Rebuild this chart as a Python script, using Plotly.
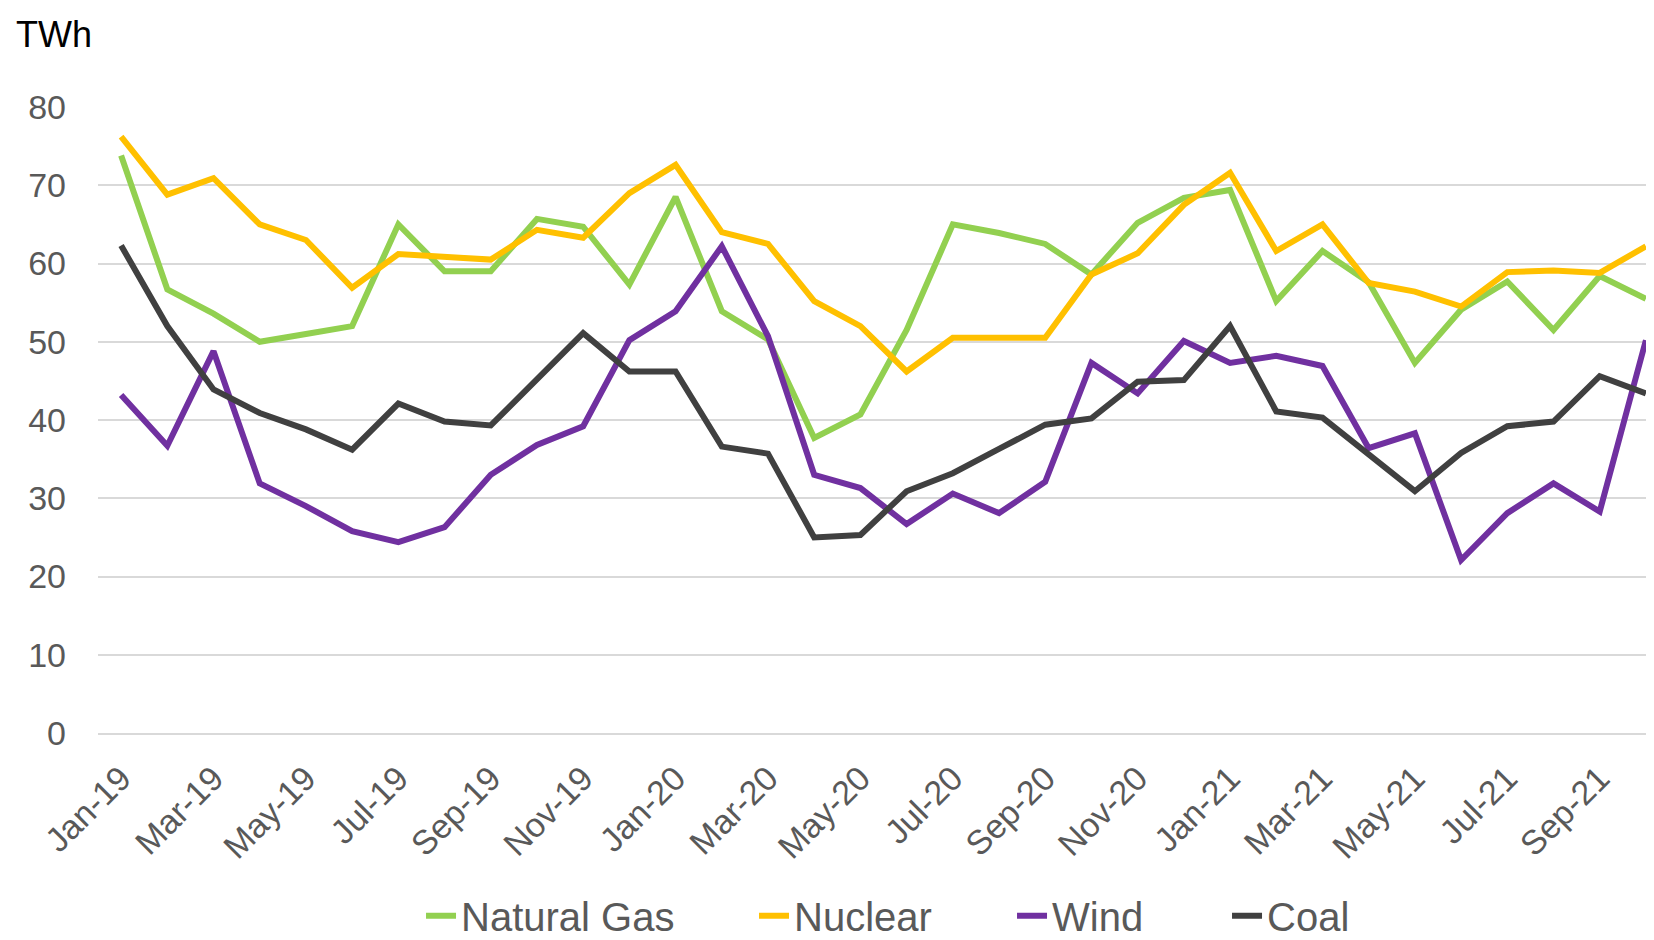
import plotly.graph_objects as go

months = ["Jan-19", "Feb-19", "Mar-19", "Apr-19", "May-19", "Jun-19", "Jul-19", "Aug-19",
          "Sep-19", "Oct-19", "Nov-19", "Dec-19", "Jan-20", "Feb-20", "Mar-20", "Apr-20",
          "May-20", "Jun-20", "Jul-20", "Aug-20", "Sep-20", "Oct-20", "Nov-20", "Dec-20",
          "Jan-21", "Feb-21", "Mar-21", "Apr-21", "May-21", "Jun-21", "Jul-21", "Aug-21",
          "Sep-21", "Oct-21"]

tick_labels = ["Jan-19", "Mar-19", "May-19", "Jul-19", "Sep-19", "Nov-19",
               "Jan-20", "Mar-20", "May-20", "Jul-20", "Sep-20", "Nov-20",
               "Jan-21", "Mar-21", "May-21", "Jul-21", "Sep-21"]

natural_gas = [73.8, 56.7, 53.6, 50.0, 51.0, 52.0, 65.0, 59.0, 59.0, 65.7, 64.7, 57.3,
               68.5, 53.9, 50.3, 37.7, 40.7, 51.5, 65.0, 63.9, 62.5, 58.6, 65.2, 68.4,
               69.4, 55.2, 61.6, 57.6, 47.3, 54.1, 57.7, 51.5, 58.4, 55.5]

nuclear = [76.2, 68.8, 70.9, 65.0, 63.0, 56.9, 61.2, 60.9, 60.5, 64.3, 63.3, 69.0,
           72.6, 64.0, 62.5, 55.2, 52.0, 46.2, 50.5, 50.5, 50.5, 58.6, 61.3, 67.5,
           71.6, 61.6, 65.0, 57.5, 56.4, 54.5, 58.9, 59.1, 58.8, 62.2]

wind = [43.2, 36.7, 48.8, 31.9, 29.0, 25.8, 24.4, 26.3, 33.0, 36.8, 39.2, 50.2,
        53.9, 62.2, 50.7, 33.0, 31.3, 26.7, 30.6, 28.1, 32.1, 47.3, 43.4, 50.1,
        47.3, 48.2, 46.9, 36.4, 38.3, 22.1, 28.1, 31.9, 28.3, 50.2]

coal = [62.3, 52.0, 43.9, 40.9, 38.8, 36.2, 42.1, 39.8, 39.3, 45.2, 51.1, 46.2,
        46.2, 36.6, 35.7, 25.0, 25.3, 30.9, 33.2, 36.3, 39.4, 40.2, 44.9, 45.1,
        52.0, 41.1, 40.3, 35.6, 30.9, 35.8, 39.2, 39.8, 45.6, 43.4]

y_ticks = [0, 10, 20, 30, 40, 50, 60, 70, 80]

series = [
    ("Natural Gas", natural_gas, "#92D050", 288),
    ("Nuclear", nuclear, "#FFC000", 213),
    ("Wind", wind, "#7030A0", 170),
    ("Coal", coal, "#404040", 82),
]

FONT = "Liberation Sans, Arial, sans-serif"
GRID = "#d9d9d9"
TEXT = "#595959"

fig = go.Figure()
for name, vals, color, lw in series:
    fig.add_trace(go.Scatter(x=months, y=vals, mode="lines", name=name,
                             legendwidth=lw,
                             line=dict(color=color, width=6)))

x_range = [-0.5, 33.175]

fig.update_layout(
    width=1646, height=932,
    margin=dict(l=90, r=0, t=99, b=207, autoexpand=False),
    paper_bgcolor="white", plot_bgcolor="white",
    font=dict(family=FONT, color=TEXT),
    xaxis=dict(
        type="category", categoryorder="array", categoryarray=months,
        range=x_range, tickmode="array", tickvals=tick_labels, ticktext=tick_labels,
        ticks="", tickangle=-45, tickfont=dict(size=34, color=TEXT, family=FONT),
        ticklabelstandoff=10,
        showgrid=False, showline=True, linecolor=GRID, linewidth=1.5, zeroline=False,
    ),
    xaxis2=dict(
        overlaying="x", anchor="y", side="bottom", type="linear", range=x_range,
        tickmode="array", tickvals=[i - 0.5 for i in range(0, len(months) + 1, 2)],
        ticks="outside", ticklen=12, tickwidth=1.5, tickcolor=GRID,
        showticklabels=False, showgrid=False, showline=False, zeroline=False,
    ),
    yaxis=dict(
        range=[0, 80], tickmode="array", tickvals=y_ticks,
        showgrid=True, gridcolor=GRID, gridwidth=1.5, zeroline=False, showline=False,
        ticks="", tickfont=dict(size=34, color=TEXT, family=FONT),
        ticklabelstandoff=31,
    ),
    showlegend=True,
    legend=dict(
        orientation="h", xanchor="left", x=0.2076, yanchor="middle", y=-0.292,
        font=dict(size=40, color=TEXT, family=FONT), bgcolor="rgba(0,0,0,0)",
        itemwidth=30,
    ),
    annotations=[dict(
        text="TWh", xref="paper", yref="paper", x=-0.0540, y=1.116,
        xanchor="left", yanchor="middle", showarrow=False,
        font=dict(size=36, color="black", family=FONT),
    )],
)

fig.write_html("out.html")
